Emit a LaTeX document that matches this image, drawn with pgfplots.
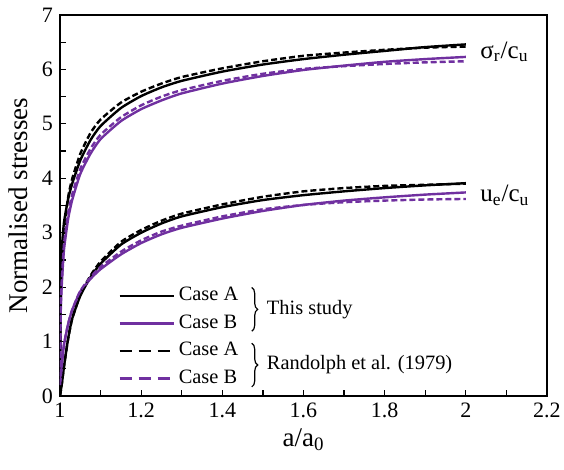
\documentclass[border=0pt]{standalone}
\usepackage{fontspec}
\setmainfont{Liberation Serif}
\usepackage{pgfplots}
\pgfplotsset{compat=1.18}
\usetikzlibrary{decorations.pathreplacing}
\definecolor{purp}{RGB}{112,48,160}

\begin{document}
\begin{tikzpicture}
\begin{axis}[
  name=ax,
  scale only axis, width=243.5pt, height=190.5pt,
  xmin=1, xmax=2.2, ymin=0, ymax=7,
  xtick={1,1.2,1.4,1.6,1.8,2,2.2}, ytick={0,1,2,3,4,5,6,7},
  minor x tick num=1, minor y tick num=1,
  tick align=inside, xtick pos=bottom, ytick pos=left,
  major tick length=3pt, minor tick length=3pt,
  axis line style={line width=0.9pt},
  every tick/.style={black, line width=0.6pt},
  /pgf/number format/assume math mode=true,
  xticklabel={\pgfmathprintnumber{\tick}},
  yticklabel={\pgfmathprintnumber{\tick}},
  ticklabel style={font=\fontsize{11}{13}\selectfont},
  xlabel={a/a\textsubscript{0}},
  ylabel={Normalised stresses},
  every axis x label/.style={at={(axis description cs:0.5,0)}, yshift=-22pt, anchor=center, font=\fontsize{13.5}{15}\selectfont},
  every axis y label/.style={at={(axis description cs:0,0.5)}, xshift=-21pt, rotate=90, anchor=center, font=\fontsize{13.5}{15}\selectfont},
  legend cell align=left,
  legend image code/.code={\draw[#1] (0pt,0pt) -- (27pt,0pt);},
  legend style={name=L, at={(axis cs:1.143,2.085)}, anchor=north west, draw=none, fill=none, inner sep=0pt, row sep=0.5pt,
    font=\fontsize{10.2}{12}\selectfont, nodes={text height=7pt, text depth=2.2pt, inner sep=2pt}},
  every axis plot/.append style={smooth, tension=0.35},
]
\addlegendimage{black, line width=1.2pt}
\addlegendentry{Case A}
\addlegendimage{purp, line width=1.2pt}
\addlegendentry{Case B}
\addlegendimage{black, line width=1.2pt, dash pattern=on 6pt off 3.5pt}
\addlegendentry{Case A}
\addlegendimage{purp, line width=1.2pt, dash pattern=on 6pt off 3.5pt}
\addlegendentry{Case B}
% This study, Case A (sigma)
\addplot[black, line width=1.2pt, forget plot] table {
1.000 0
1.002 2.1
1.005 2.75
1.010 3.2
1.020 3.62
1.030 3.9
1.050 4.33
1.075 4.70
1.100 4.96
1.150 5.29
1.200 5.51
1.250 5.67
1.300 5.79
1.400 5.96
1.500 6.09
1.600 6.19
1.700 6.27
1.800 6.34
1.900 6.41
2.000 6.46
};
% This study, Case B (sigma)
\addplot[purp, line width=1.2pt, forget plot] table {
1.000 0.2
1.002 1.6
1.005 2.13
1.010 2.7
1.020 3.25
1.030 3.6
1.050 4.08
1.075 4.45
1.100 4.72
1.150 5.05
1.200 5.27
1.250 5.43
1.300 5.56
1.400 5.74
1.500 5.88
1.600 5.99
1.700 6.07
1.800 6.14
1.900 6.19
2.000 6.23
};
% Randolph, Case A (sigma)
\addplot[black, line width=1.2pt, dash pattern=on 3pt off 1.5pt, forget plot] table {
1.000 0
1.002 2.15
1.005 2.6
1.010 3.0
1.020 3.65
1.030 3.99
1.050 4.45
1.075 4.83
1.100 5.08
1.150 5.39
1.200 5.59
1.250 5.74
1.300 5.86
1.400 6.02
1.500 6.15
1.600 6.25
1.700 6.31
1.800 6.36
1.900 6.40
2.000 6.42
};
% Randolph, Case B (sigma)
\addplot[purp, line width=1.2pt, dash pattern=on 3pt off 1.5pt, forget plot] table {
1.000 0.2
1.002 1.7
1.005 2.2
1.010 2.8
1.020 3.35
1.030 3.7
1.050 4.17
1.075 4.54
1.100 4.80
1.150 5.12
1.200 5.34
1.250 5.50
1.300 5.62
1.400 5.79
1.500 5.92
1.600 6.01
1.700 6.06
1.800 6.10
1.900 6.13
2.000 6.15
};
% u_e curves
\addplot[black, line width=1.2pt, forget plot] table {
1.000 0
1.005 0.25
1.010 0.55
1.020 1.05
1.030 1.42
1.050 1.84
1.075 2.18
1.100 2.43
1.150 2.78
1.200 3.00
1.250 3.17
1.300 3.30
1.400 3.47
1.500 3.60
1.600 3.69
1.700 3.76
1.800 3.82
1.900 3.87
2.000 3.91
};
\addplot[purp, line width=1.2pt, forget plot] table {
1.000 0.2
1.005 0.6
1.010 0.95
1.020 1.32
1.030 1.58
1.050 1.92
1.075 2.15
1.100 2.33
1.150 2.60
1.200 2.81
1.250 2.97
1.300 3.09
1.400 3.26
1.500 3.40
1.600 3.51
1.700 3.59
1.800 3.65
1.900 3.70
2.000 3.74
};
\addplot[black, line width=1.2pt, dash pattern=on 3pt off 1.5pt, forget plot] table {
1.000 0
1.005 0.25
1.010 0.55
1.020 1.05
1.030 1.42
1.050 1.86
1.075 2.21
1.100 2.47
1.150 2.83
1.200 3.05
1.250 3.22
1.300 3.35
1.400 3.52
1.500 3.66
1.600 3.76
1.700 3.82
1.800 3.86
1.900 3.88
2.000 3.90
};
\addplot[purp, line width=1.2pt, dash pattern=on 3pt off 1.5pt, forget plot] table {
1.000 0.2
1.005 0.6
1.010 0.95
1.020 1.32
1.030 1.58
1.050 1.93
1.075 2.18
1.100 2.37
1.150 2.65
1.200 2.86
1.250 3.02
1.300 3.13
1.400 3.30
1.500 3.43
1.600 3.51
1.700 3.56
1.800 3.59
1.900 3.61
2.000 3.62
};
\node[anchor=west, font=\fontsize{12.5}{14}\selectfont, inner sep=0pt] at (axis cs:2.035,6.32) {σ\textsubscript{r}/c\textsubscript{u}};
\node[anchor=west, font=\fontsize{12.5}{14}\selectfont, inner sep=0pt] at (axis cs:2.035,3.69) {u\textsubscript{e}/c\textsubscript{u}};
\end{axis}
\draw[decorate, decoration={brace, amplitude=3pt}, line width=0.6pt]
  ([xshift=4.5pt,yshift=-2.5pt]L.north east) -- ([xshift=4.5pt,yshift=3pt]L.east)
  node[midway, anchor=west, xshift=4pt, font=\fontsize{10.2}{12}\selectfont] {This study};
\draw[decorate, decoration={brace, amplitude=3pt}, line width=0.6pt]
  ([xshift=4.5pt,yshift=-3pt]L.east) -- ([xshift=4.5pt,yshift=2.5pt]L.south east)
  node[midway, anchor=west, xshift=4pt, font=\fontsize{10.2}{12}\selectfont] {Randolph et al. (1979)};
\pgfresetboundingbox
\path ([shift={(-30pt,-37pt)}]ax.south west) rectangle ([shift={(8.5pt,7.5pt)}]ax.north east);
\end{tikzpicture}
\end{document}
